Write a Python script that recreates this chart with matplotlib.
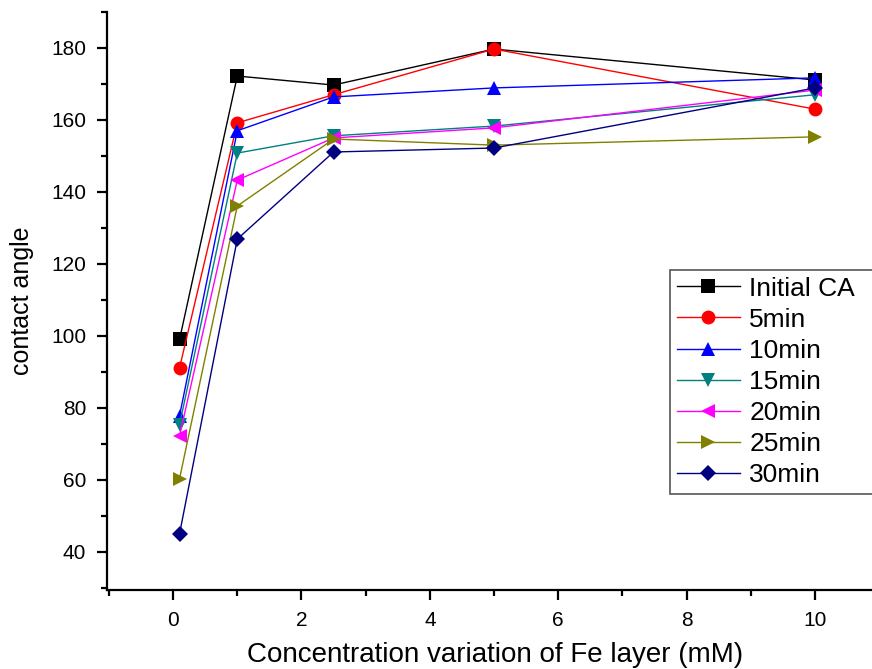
import matplotlib
matplotlib.use("Agg")
import matplotlib.pyplot as plt
from matplotlib.ticker import MultipleLocator

plt.rcParams['font.family'] = ['Liberation Sans', 'DejaVu Sans']

conc = [0.1, 1, 2.5, 5, 10]
initial_ca = [99.0, 172.2, 169.7, 179.7, 171.1]
min5 = [91.1, 159.2, 167.0, 179.7, 163.0]
min10 = [77.8, 157.0, 166.4, 168.9, 171.7]
min15 = [75.3, 150.8, 155.6, 158.3, 167.0]
min20 = [72.2, 143.3, 155.0, 157.8, 168.3]
min25 = [60.3, 136.1, 154.7, 153.0, 155.3]
min30 = [45.0, 126.9, 151.1, 152.2, 168.9]

series = [
    ("Initial CA", initial_ca, "#000000", "s"),
    ("5min", min5, "#ff0000", "o"),
    ("10min", min10, "#0000ff", "^"),
    ("15min", min15, "#008080", "v"),
    ("20min", min20, "#ff00ff", "<"),
    ("25min", min25, "#808000", ">"),
    ("30min", min30, "#000080", "D"),
]

fig = plt.figure(figsize=(8.72, 6.69), dpi=100)
ax = fig.add_axes([0.1227, 0.1181, 0.89, 0.864])

for label, vals, color, marker in series:
    ms = 8.5 if marker == "D" else 10
    ax.plot(conc, vals, color=color, marker=marker, markersize=ms,
            linewidth=1.0, label=label, markeredgewidth=0)

ax.set_xlim(-1.03, 11.06)
ax.set_ylim(29.4, 190)
ax.xaxis.set_major_locator(MultipleLocator(2))
ax.xaxis.set_minor_locator(MultipleLocator(1))
ax.yaxis.set_minor_locator(MultipleLocator(10))
ax.set_yticks(range(40, 181, 20))

for side in ("top", "right"):
    ax.spines[side].set_visible(False)
for side in ("left", "bottom"):
    ax.spines[side].set_linewidth(1.6)

ax.tick_params(axis="both", which="major", direction="out", length=7, width=1.6,
               labelsize=15, pad=8)
ax.tick_params(axis="both", which="minor", direction="out", length=4, width=1.6)

ax.set_xlabel("Concentration variation of Fe layer (mM)", fontsize=20, labelpad=9)
ax.set_ylabel("contact angle", fontsize=18, labelpad=12)

leg = ax.legend(loc="upper left",
                bbox_to_anchor=(670 / 872, 1 - 495 / 669, 220 / 872, 225 / 669),
                bbox_transform=fig.transFigure, mode="expand",
                fontsize=19, frameon=True,
                fancybox=False, framealpha=1, edgecolor="#555555",
                handlelength=2.4, handletextpad=0.35, borderpad=0.25,
                labelspacing=0.27, borderaxespad=0)
leg.get_frame().set_linewidth(1.2)

fig.savefig("out.png", dpi=100)
